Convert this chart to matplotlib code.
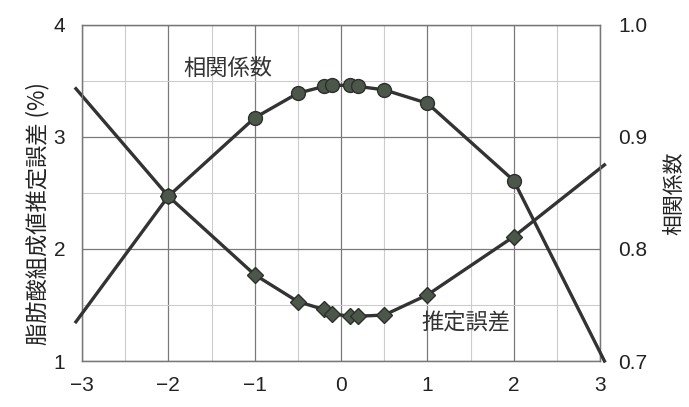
import matplotlib

matplotlib.use("Agg")
import matplotlib.pyplot as plt  # noqa: E402
import numpy as np  # noqa: E402

plt.rcParams["font.family"] = ["Noto Sans CJK JP", "DejaVu Sans"]
NUM_FONT = ["Liberation Sans Narrow", "Liberation Sans", "DejaVu Sans"]

# shift parameter on the x axis; marked points and the bare line ends
x_pts = [-2, -1, -0.5, -0.2, -0.1, 0.1, 0.2, 0.5, 1, 2]
x_ends = [-3.07, 3.05]

# estimation error of fatty acid composition (%), left axis
err_pts = [2.47, 1.77, 1.53, 1.46, 1.42, 1.40, 1.40, 1.41, 1.59, 2.11]
err_ends = [3.43, 2.75]

# correlation coefficient, right axis
corr_pts = [0.847, 0.917, 0.939, 0.945, 0.946, 0.946, 0.945, 0.942, 0.930, 0.861]
corr_ends = [0.735, 0.700]

LINE = "#333333"
FACE = "#4d564b"
EDGE = "#2b302a"


def with_ends(pts, ends):
    return [ends[0]] + list(pts) + [ends[1]]


fig = plt.figure(figsize=(6.89, 4.07), dpi=100)
ax = fig.add_axes([0.119, 0.113, 0.752, 0.826])
ax2 = ax.twinx()

ax.set_xlim(-3, 3)
ax.set_ylim(1, 4)
ax2.set_ylim(0.7, 1.0)

ax.set_xticks(np.arange(-3, 4, 1))
ax.set_xticks(np.arange(-3, 3.5, 0.5), minor=True)
ax.set_yticks([1, 2, 3, 4])
ax.set_yticks(np.arange(1, 4.5, 0.5), minor=True)
ax2.set_yticks([0.7, 0.8, 0.9, 1.0])
ax.set_xticklabels(["\u22123", "\u22122", "\u22121", "0", "1", "2", "3"])
ax2.set_yticklabels(["0.7", "0.8", "0.9", "1.0"])

ax.grid(which="major", color="#7a7a7a", linewidth=0.9)
ax.grid(which="minor", color="#cccccc", linewidth=0.8)
ax.set_axisbelow(True)

for a in (ax, ax2):
    a.tick_params(which="both", length=0, labelsize=15, colors="#222222")
    for s in a.spines.values():
        s.set_color("#777777")
        s.set_linewidth(0.9)
    for lab in a.get_xticklabels() + a.get_yticklabels():
        lab.set_family(NUM_FONT)
ax.tick_params(axis="x", pad=11)
ax.tick_params(axis="y", pad=12)
ax2.tick_params(axis="y", pad=13)

# estimation error: diamonds on the left axis
ax.plot(with_ends(x_pts, x_ends), with_ends(err_pts, err_ends),
        color=LINE, linewidth=2.4, clip_on=False, zorder=3)
ax.plot(x_pts, err_pts, linestyle="none", marker="D", markersize=8.5,
        markerfacecolor=FACE, markeredgecolor=EDGE,
        markeredgewidth=1.0, zorder=4)

# correlation coefficient: circles on the right axis
ax2.plot(with_ends(x_pts, x_ends), with_ends(corr_pts, corr_ends),
         color=LINE, linewidth=2.4, clip_on=False, zorder=3)
ax2.plot(x_pts, corr_pts, linestyle="none", marker="o", markersize=10,
         markerfacecolor=FACE, markeredgecolor=EDGE,
         markeredgewidth=1.0, zorder=4)

ax.text(-1.31, 3.61, "相関係数", fontsize=16, color="#333333",
        ha="center", va="center")
ax.text(1.45, 1.34, "推定誤差", fontsize=16, color="#333333",
        ha="center", va="center")

ax.set_ylabel("脂肪酸組成値推定誤差 (%)", fontsize=16, color="#222222")
ax.yaxis.set_label_coords(-0.062, 0.44)
ax2.set_ylabel("相関係数", fontsize=15, color="#222222")
ax2.yaxis.set_label_coords(1.122, 0.5)

fig.savefig("out.png", dpi=100)
